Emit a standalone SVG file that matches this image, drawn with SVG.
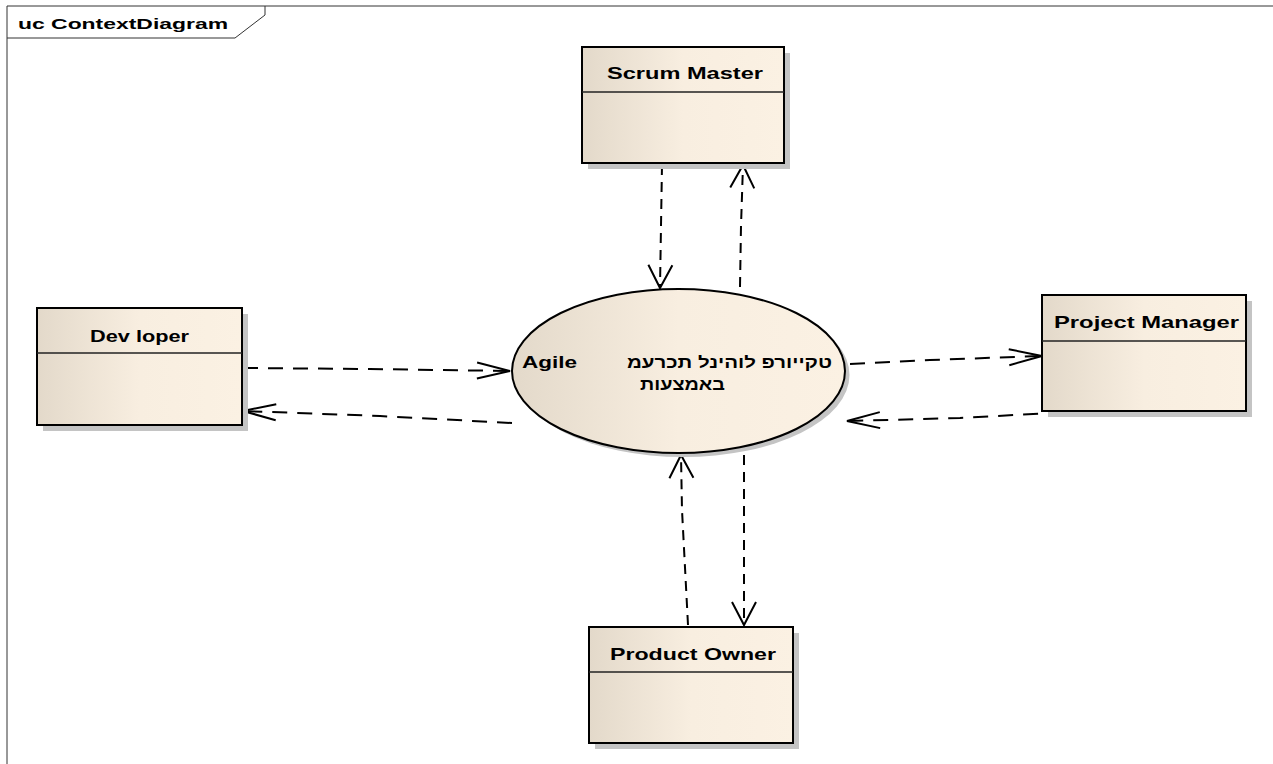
<svg xmlns="http://www.w3.org/2000/svg" width="1273" height="764" viewBox="0 0 1273 764">
  <defs>
    <linearGradient id="fill" x1="0" y1="0" x2="1" y2="0">
      <stop offset="0" stop-color="#e3d9ca"/>
      <stop offset="0.5" stop-color="#f8eee0"/>
      <stop offset="1" stop-color="#fbf1e3"/>
    </linearGradient>
    <!-- open arrowheads: long one for horizontal links, wide one for vertical links -->
    <marker id="arrowH" markerUnits="userSpaceOnUse" viewBox="-40 -15 44 30" markerWidth="44" markerHeight="30" refX="0" refY="0" orient="auto" overflow="visible">
      <path d="M-33,-8 L0,0 L-33,8" fill="none" stroke="#000" stroke-width="2" stroke-dasharray="none"/>
    </marker>
    <marker id="arrowV" markerUnits="userSpaceOnUse" viewBox="-30 -15 34 30" markerWidth="34" markerHeight="30" refX="0" refY="0" orient="auto" overflow="visible">
      <path d="M-23,-12 L0,0 L-23,12" fill="none" stroke="#000" stroke-width="2" stroke-dasharray="none"/>
    </marker>
    <style>
      .frame { fill: none; stroke: #333; stroke-width: 1; }
      .shadow { fill: #c4c4c4; stroke: none; }
      .box { fill: url(#fill); stroke: #000; stroke-width: 2; }
      .div { stroke: #222; stroke-width: 1.5; }
      .lbl { font-family: "Liberation Sans", "DejaVu Sans", Arial, sans-serif; font-weight: bold; font-size: 17px; fill: #000; }
      .uc { font-size: 15px; }
      .usecase { font-size: 16px; }
      .dep { fill: none; stroke: #000; stroke-width: 2; }
      .h { stroke-dasharray: 15 10; marker-end: url(#arrowH); }
      .v { stroke-dasharray: 10 7; marker-end: url(#arrowV); }
    </style>
  </defs>

  <rect width="1273" height="764" fill="#fff"/>

  <!-- diagram frame and name tab -->
  <g id="frame">
    <path class="frame" d="M7,764 L7,6 L1273,6"/>
    <path class="frame" d="M7,38 L235,38 L265,15 L265,6"/>
    <text class="lbl uc" x="18" y="29" textLength="210" lengthAdjust="spacingAndGlyphs">uc ContextDiagram</text>
  </g>

  <g id="connectors">
    <path class="dep v" d="M662,165 L661,226 L660,288"/>
    <path class="dep v" d="M740,287 L741,226 L743,165"/>
    <path class="dep v" d="M688,625 L682,510 L681,455"/>
    <path class="dep v" d="M744,455 L744,625"/>
    <path class="dep h" d="M243,368 L370,369 L510,371"/>
    <path class="dep h" d="M512,423 L380,416 L243,411"/>
    <path class="dep h" d="M850,364 L930,360 L1042,356"/>
    <path class="dep h" d="M1088,411 L960,418 L847,421"/>
  </g>

  <g id="scrum-master">
    <rect class="shadow" x="588" y="53" width="202" height="116"/>
    <rect class="box" x="582" y="47" width="202" height="116"/>
    <line class="div" x1="582" y1="92" x2="784" y2="92"/>
    <text class="lbl" x="607" y="79" textLength="156" lengthAdjust="spacingAndGlyphs">Scrum Master</text>
  </g>

  <g id="developer">
    <rect class="shadow" x="43" y="314" width="205" height="117"/>
    <rect class="box" x="37" y="308" width="205" height="117"/>
    <line class="div" x1="37" y1="353" x2="242" y2="353"/>
    <text class="lbl" x="90" y="342" textLength="99" lengthAdjust="spacingAndGlyphs">Dev loper</text>
  </g>

  <g id="project-manager">
    <rect class="shadow" x="1048" y="301" width="204" height="116"/>
    <rect class="box" x="1042" y="295" width="204" height="116"/>
    <line class="div" x1="1042" y1="341" x2="1246" y2="341"/>
    <text class="lbl" x="1054" y="328" textLength="185" lengthAdjust="spacingAndGlyphs">Project Manager</text>
  </g>

  <g id="product-owner">
    <rect class="shadow" x="595" y="633" width="204" height="116"/>
    <rect class="box" x="589" y="627" width="204" height="116"/>
    <line class="div" x1="589" y1="672" x2="793" y2="672"/>
    <text class="lbl" x="610" y="660" textLength="166" lengthAdjust="spacingAndGlyphs">Product Owner</text>
  </g>

  <g id="agile-system">
    <ellipse class="shadow" cx="683" cy="375" rx="166.5" ry="82"/>
    <ellipse class="box" cx="678.5" cy="371" rx="166.5" ry="82"/>
    <text class="lbl usecase" x="522" y="368" textLength="55" lengthAdjust="spacingAndGlyphs">Agile</text>
    <text class="lbl usecase" x="627" y="368" textLength="205" lengthAdjust="spacingAndGlyphs">טקייורפ לוהינל תכרעמ</text>
    <text class="lbl usecase" x="640" y="390" textLength="85" lengthAdjust="spacingAndGlyphs">באמצעות</text>
  </g>
</svg>
